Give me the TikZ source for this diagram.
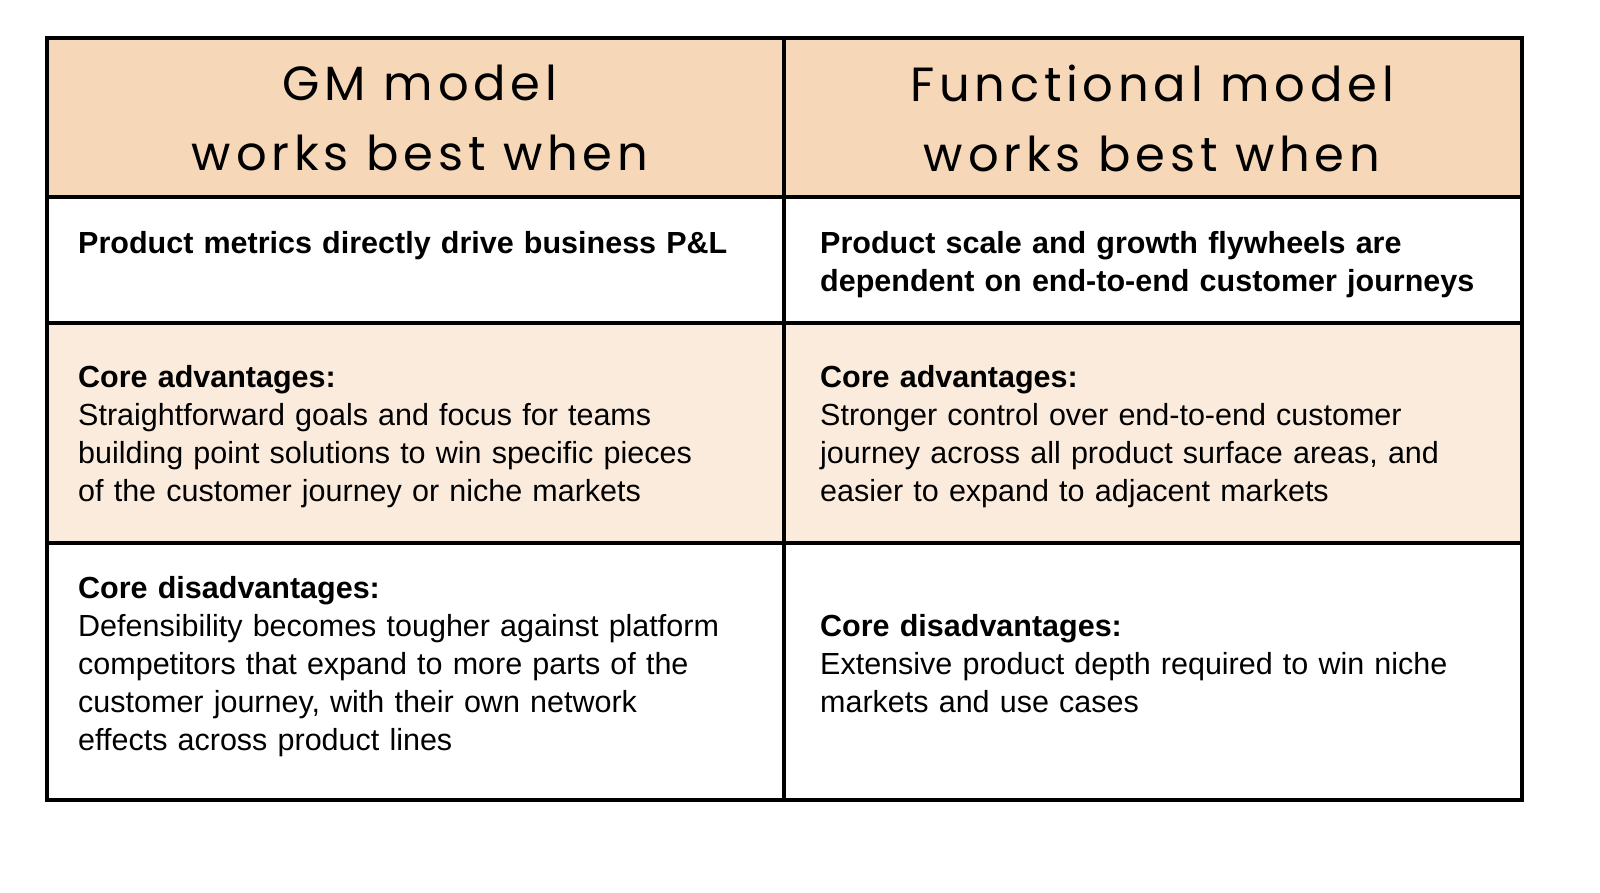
\documentclass[tikz,border=0pt]{standalone}
\usepackage{fontspec}
\setmainfont{Liberation Sans}
\newfontfamily\hand{Poppins}
\definecolor{peach}{HTML}{F6D7B8}
\definecolor{lpeach}{HTML}{FBEBDC}
\begin{document}
\begin{tikzpicture}[x=1pt,y=-1pt,
  cell/.style={anchor=north west,inner sep=0pt,text width=690pt,align=left,font=\fontsize{30.5}{38}\selectfont},
  head/.style={align=center,font=\hand\fontsize{48}{70}\selectfont\addfontfeature{LetterSpace=10}},
  rule/.style={line width=3.5pt,black}]
\useasboundingbox (0,0) rectangle (1600,893);
\fill[white] (0,0) rectangle (1600,893);
\fill[peach] (47,38) rectangle (1522,197);
\fill[lpeach] (47,323) rectangle (1522,543);
\draw[rule] (47,38) rectangle (1522,800);
\draw[rule] (784,38) -- (784,800);
\foreach \y in {197,323,543} \draw[rule] (47,\y) -- (1522,\y);
\node[head] (h1) at (420,118) {GM model\\works best when};
\node[head] (h2) at (1152,118) {Functional model\\works best when};
\node[cell] (a1) at (78,231) {\textbf{Product metrics directly drive business P\&L}};
\node[cell] (a2) at (820,231) {\textbf{Product scale and growth flywheels are\\dependent on end-to-end customer journeys}};
\node[cell] (b1) at (78,365) {\textbf{Core advantages:}\\Straightforward goals and focus for teams\\building point solutions to win specific pieces\\of the customer journey or niche markets};
\node[cell] (b2) at (820,365) {\textbf{Core advantages:}\\Stronger control over end-to-end customer\\journey across all product surface areas, and\\easier to expand to adjacent markets};
\node[cell] (c1) at (78,576) {\textbf{Core disadvantages:}\\Defensibility becomes tougher against platform\\competitors that expand to more parts of the\\customer journey, with their own network\\effects across product lines};
\node[cell] (c2) at (820,614) {\textbf{Core disadvantages:}\\Extensive product depth required to win niche\\markets and use cases};
\end{tikzpicture}
\end{document}
